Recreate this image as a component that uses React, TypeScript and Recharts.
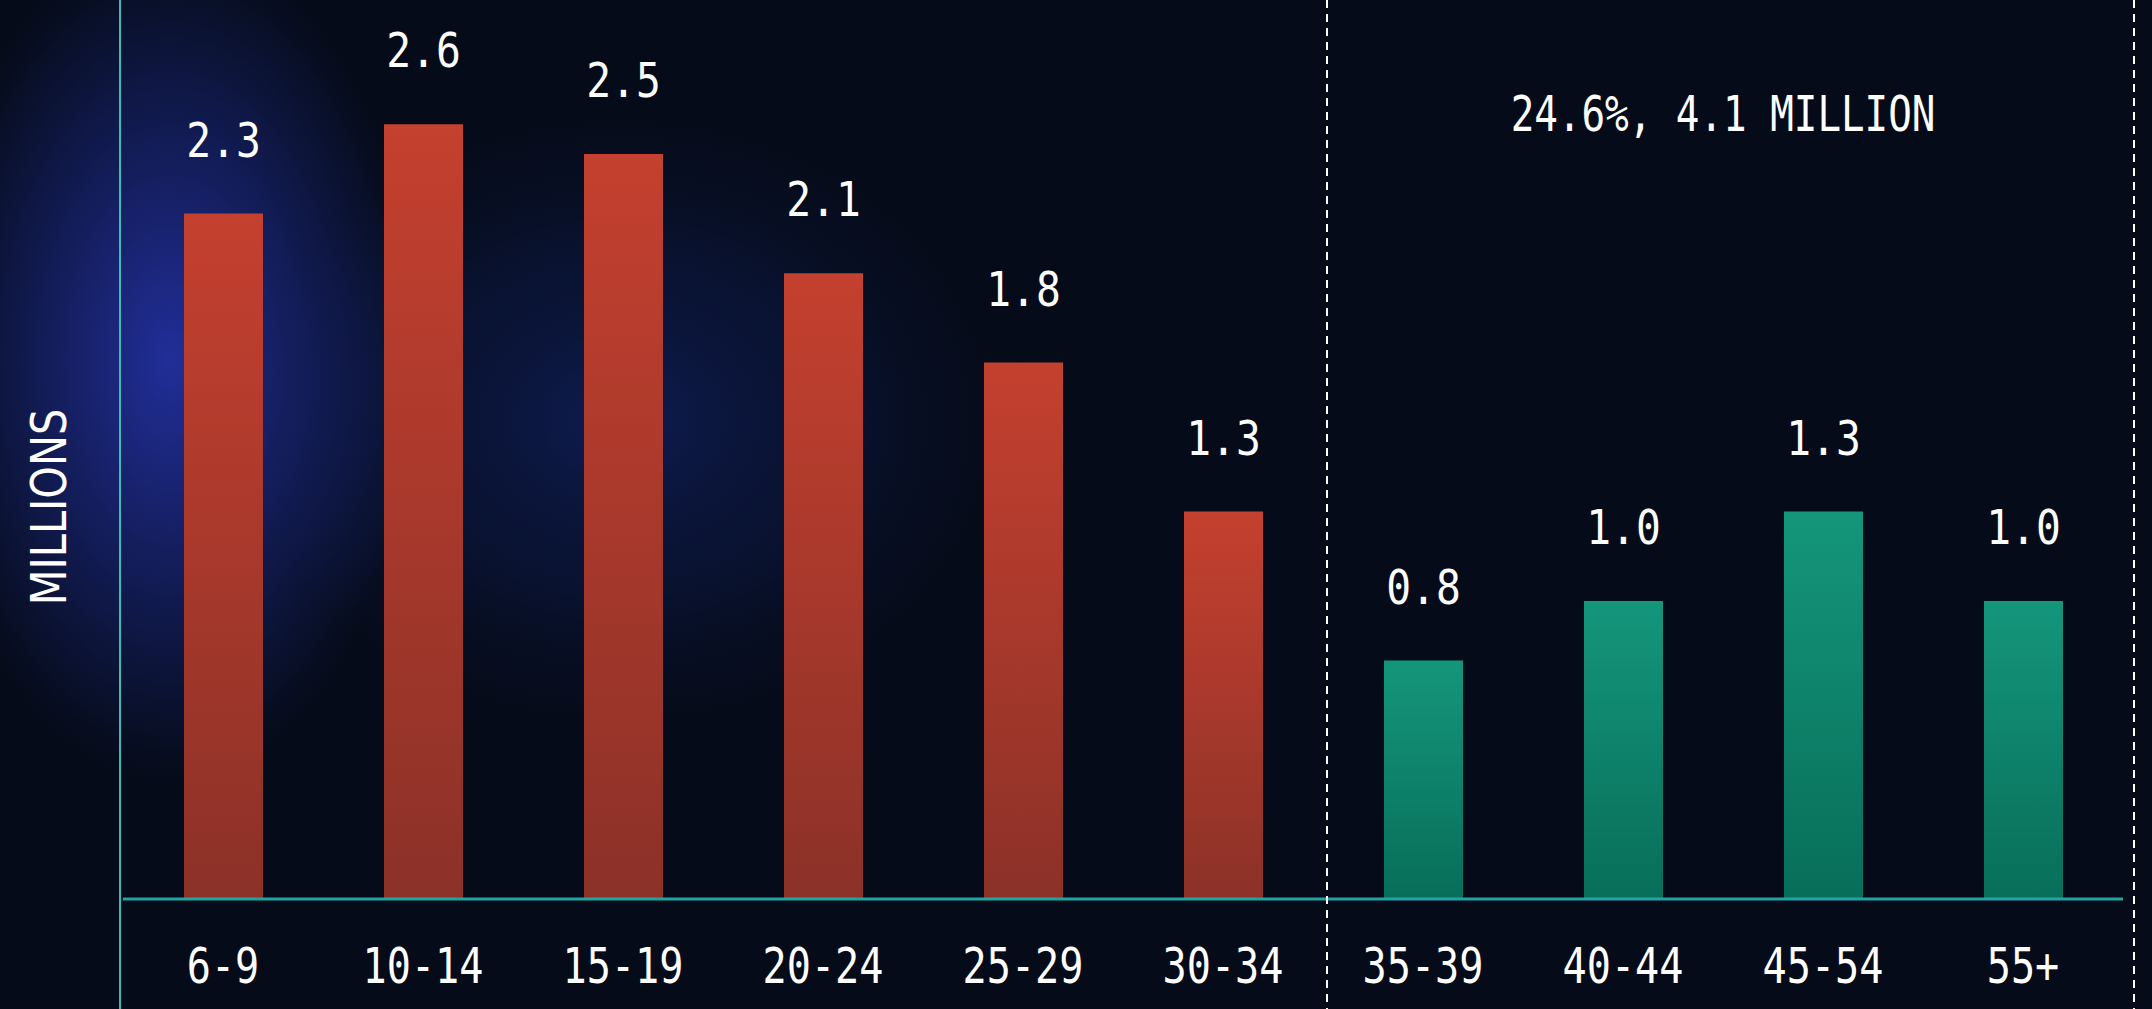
import React from "react";
import { BarChart, Bar, XAxis, YAxis, Cell, LabelList } from "recharts";

// age groups, millions of people
const ageGroups = ["6-9", "10-14", "15-19", "20-24", "25-29", "30-34", "35-39", "40-44", "45-54", "55+"];
const millions = [2.3, 2.6, 2.5, 2.1, 1.8, 1.3, 0.8, 1.0, 1.3, 1.0];
const cohort = ["under35", "under35", "under35", "under35", "under35", "under35", "over35", "over35", "over35", "over35"];
const olderShare = "24.6%, 4.1 MILLION";
const yTitle = "MILLIONS";

const W = 2152;
const H = 1009;
const MONO = "'DejaVu Sans Mono', monospace";

const data = ageGroups.map((age, i) => ({ age, value: millions[i], cohort: cohort[i] }));

const ValueLabel = (props: any) => {
  const { x, y, width, value } = props;
  const cx = Number(x) + Number(width) / 2;
  return (
    <text
      transform={`translate(${cx},${Number(y) - 57}) scale(0.86,1)`}
      textAnchor="middle"
      fill="#ffffff"
      fontSize={48}
      fontFamily={MONO}
    >
      {Number(value).toFixed(1)}
    </text>
  );
};

const AgeTick = (props: any) => {
  const { x, y, payload } = props;
  return (
    <text
      transform={`translate(${x},${y + 84}) scale(0.82,1)`}
      textAnchor="middle"
      fill="#ffffff"
      fontSize={49}
      fontFamily={MONO}
    >
      {payload.value}
    </text>
  );
};

export default function App() {
  return (
    <div
      style={{
        position: "absolute",
        left: 0,
        top: 0,
        width: W,
        height: H,
        overflow: "hidden",
        background:
          "radial-gradient(ellipse 330px 560px at 170px 360px, rgba(40,55,185,0.8), rgba(5,11,24,0) 75%)," +
          "radial-gradient(ellipse 520px 420px at 620px 420px, rgba(25,45,140,0.45), rgba(5,11,24,0) 72%)," +
          "#050b18",
      }}
    >
      <BarChart
        width={W}
        height={H}
        data={data}
        margin={{ top: 5, right: 29, bottom: 80, left: 123 }}
      >
        <defs>
          <linearGradient id="redGrad" x1="0" y1="0" x2="0" y2="1">
            <stop offset="0%" stopColor="#c4402f" />
            <stop offset="100%" stopColor="#8c3128" />
          </linearGradient>
          <linearGradient id="greenGrad" x1="0" y1="0" x2="0" y2="1">
            <stop offset="0%" stopColor="#14967b" />
            <stop offset="100%" stopColor="#086e59" />
          </linearGradient>
        </defs>
        <XAxis
          dataKey="age"
          height={30}
          axisLine={{ stroke: "#22a3a4", strokeWidth: 3 }}
          tickLine={false}
          tickSize={0}
          tickMargin={0}
          interval={0}
          tick={<AgeTick />}
        />
        <YAxis hide type="number" domain={[0, 3]} />
        <Bar dataKey="value" barSize={79} isAnimationActive={false}>
          {data.map((d) => (
            <Cell key={d.age} fill={d.cohort === "under35" ? "url(#redGrad)" : "url(#greenGrad)"} />
          ))}
          <LabelList dataKey="value" content={<ValueLabel />} />
        </Bar>
      </BarChart>
      <svg
        width={W}
        height={H}
        style={{ position: "absolute", left: 0, top: 0, pointerEvents: "none" }}
      >
        <line x1={120} y1={0} x2={120} y2={H} stroke="#36bdb8" strokeWidth={2} />
        <line x1={1327} y1={0} x2={1327} y2={H} stroke="#ffffff" strokeWidth={2} strokeDasharray="8 6" />
        <line x1={2134} y1={0} x2={2134} y2={H} stroke="#ffffff" strokeWidth={2} strokeDasharray="8 6" />
        <text
          transform="translate(1723,131) scale(0.8,1)"
          textAnchor="middle"
          fill="#ffffff"
          fontSize={49}
          fontFamily={MONO}
        >
          {olderShare}
        </text>
        <text
          transform="translate(66,507) rotate(-90) scale(0.83,1)"
          textAnchor="middle"
          fill="#ffffff"
          fontSize={50}
          fontFamily="'DejaVu Sans', sans-serif"
        >
          {yTitle}
        </text>
      </svg>
    </div>
  );
}
